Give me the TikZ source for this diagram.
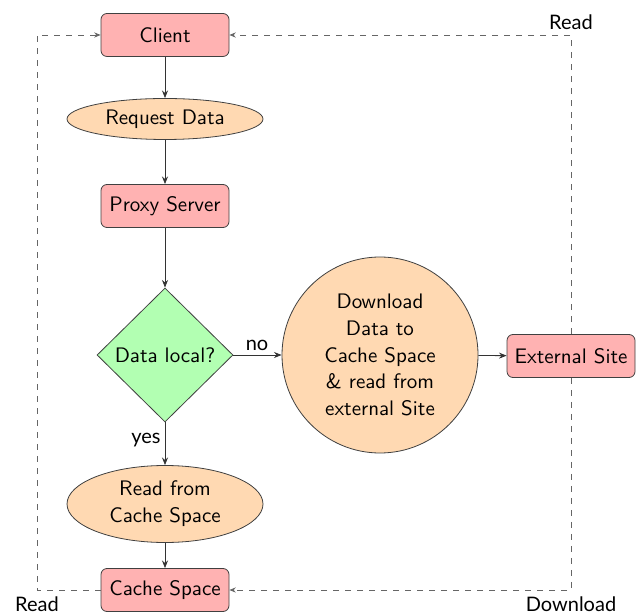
\documentclass[tikz,border=0pt]{standalone}
\usepackage{fontspec}
\newfontfamily\labfont{Lato}
\usetikzlibrary{shapes.geometric,arrows.meta}
\tikzset{
  base/.style={draw=black!75, font=\sffamily\fontsize{10.5}{13.4}\selectfont, inner sep=0pt, align=center},
  box/.style={base, rectangle, rounded corners=3pt, fill=red!30, minimum width=64pt, minimum height=21.5pt},
  oval/.style={base, ellipse, fill=orange!30, minimum width=98pt},
  decide/.style={base, diamond, fill=green!30, minimum width=68pt, minimum height=67pt},
  bigcirc/.style={base, circle, fill=orange!30, minimum size=98pt},
  flow/.style={draw=black!80, -{Stealth[length=3.8pt,width=3pt]}},
  back/.style={draw=black!60, dashed, -{Stealth[length=3.2pt,width=2.6pt]}},
  lab/.style={font=\labfont, inner sep=0pt}
}
\begin{document}
\begin{tikzpicture}[x=0.5pt,y=-0.5pt]
\useasboundingbox (0,0) rectangle (640,613);
\node[box] (client) at (165,35) {Client};
\node[oval, minimum height=20.5pt] (req) at (165,119) {Request Data};
\node[box] (proxy) at (165,206) {Proxy Server};
\node[decide] (local) at (165,355) {Data local?};
\node[bigcirc] (down) at (380,355) {Download\\ Data to\\ Cache Space\\ \& read from\\ external Site};
\node[box] (ext) at (571,356) {External Site};
\node[oval, minimum height=38.5pt] (readc) at (165,504) {Read from\\ Cache Space};
\node[box] (cache) at (165,590) {Cache Space};

\coordinate (lb) at (37,590);
\coordinate (lt) at (37,35);
\coordinate (rt) at (571,35);
\coordinate (rb) at (571,590);

\draw[flow] (client) -- (req);
\draw[flow] (req) -- (proxy);
\draw[flow] (proxy) -- (local);
\draw[flow] (local) -- (down);
\draw[flow] (local) -- (readc);
\draw[flow] (readc) -- (cache);
\draw[flow] (down) -- (ext);

\draw[back] (cache.west) -- (lb) -- (lt) -- (client.west);
\draw[back] (ext.north) -- (rt) -- (client.east);
\draw[back] (ext.south) -- (rb) -- (cache.east);

\node[lab] (no) at (257,345) {no};
\node[lab] (yes) at (146,440) {yes};
\node[lab] (read1) at (571,22) {Read};
\node[lab] (read2) at (37,604) {Read};
\node[lab] (dl) at (571,604) {Download};
\end{tikzpicture}
\end{document}
